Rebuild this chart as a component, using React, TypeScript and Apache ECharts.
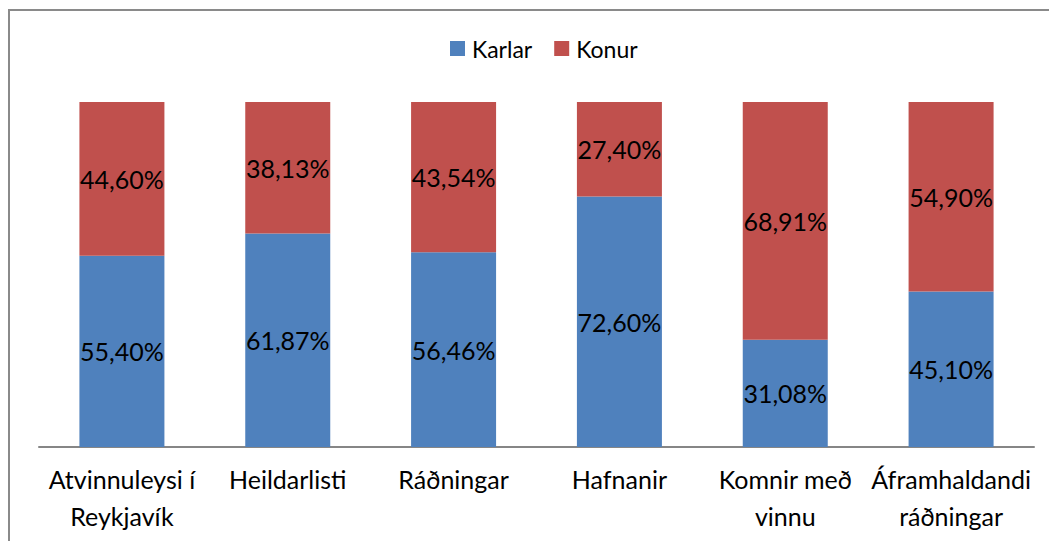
import React, { useEffect, useRef } from "react";
import * as echarts from "echarts";

const categories = [
  "Atvinnuleysi í\nReykjavík",
  "Heildarlisti",
  "Ráðningar",
  "Hafnanir",
  "Komnir með\nvinnu",
  "Áframhaldandi\nráðningar",
];
const karlar = [55.4, 61.87, 56.46, 72.6, 31.08, 45.1];
const konur = [44.6, 38.13, 43.54, 27.4, 68.91, 54.9];
const seriesNames = ["Karlar", "Konur"];

const FONT = "Lato";
const FS = 25;

const fmt = (p: any) => p.value.toFixed(2).replace(".", ",") + "%";

export default function App() {
  const ref = useRef<HTMLDivElement>(null);
  useEffect(() => {
    if (!ref.current) return;
    const chart = echarts.init(ref.current, undefined, { renderer: "svg" });
    chart.setOption({
      animation: false,
      backgroundColor: "#ffffff",
      textStyle: { fontFamily: FONT },
      graphic: [
        {
          type: "rect",
          shape: { x: 9, y: 10, width: 1200, height: 700 },
          style: { fill: "none", stroke: "#8a8a8a", lineWidth: 2 },
          silent: true,
        },
      ],
      legend: {
        data: seriesNames,
        top: 32,
        left: 445,
        itemWidth: 15,
        itemHeight: 15,
        itemGap: 22,
        icon: "rect",
        textStyle: { fontFamily: FONT, fontSize: 23, color: "#000000", padding: [0, 0, 0, 2] },
      },
      grid: { left: 39, right: 15, top: 102, bottom: 94, containLabel: false },
      xAxis: {
        type: "category",
        data: categories,
        axisLine: { lineStyle: { color: "#868686", width: 2 } },
        axisTick: { show: false },
        axisLabel: {
          interval: 0,
          margin: 13,
          fontFamily: FONT,
          fontSize: FS,
          lineHeight: 37,
          color: "#000000",
        },
      },
      yAxis: {
        type: "value",
        min: 0,
        max: 100,
        show: false,
        splitLine: { show: false },
      },
      series: [
        {
          name: seriesNames[0],
          type: "bar",
          stack: "total",
          barWidth: 85,
          data: karlar,
          itemStyle: { color: "#4F81BD" },
          label: { show: true, position: "inside", formatter: fmt, color: "#000000", fontFamily: FONT, fontSize: FS },
        },
        {
          name: seriesNames[1],
          type: "bar",
          stack: "total",
          barWidth: 85,
          data: konur,
          itemStyle: { color: "#C0504D" },
          label: { show: true, position: "inside", formatter: fmt, color: "#000000", fontFamily: FONT, fontSize: FS },
        },
      ],
    });
    return () => chart.dispose();
  }, []);
  return (
    <div
      ref={ref}
      style={{ position: "absolute", left: 0, top: 0, width: 1049, height: 541 }}
    />
  );
}
